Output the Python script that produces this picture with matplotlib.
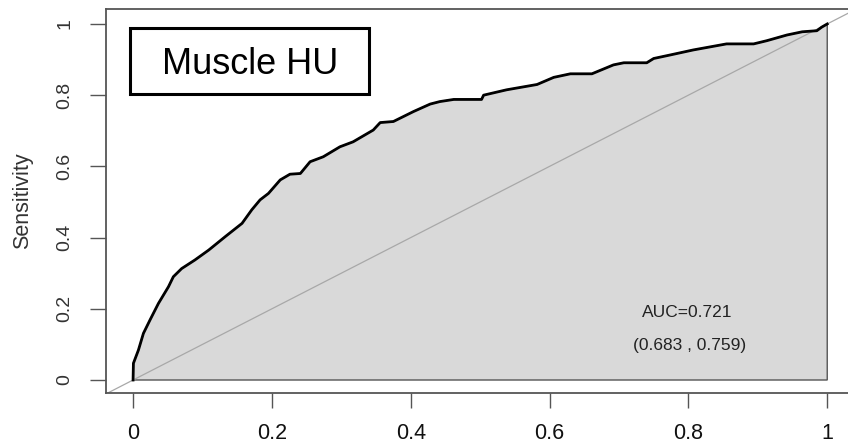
import numpy as np
import matplotlib
matplotlib.use("Agg")
from matplotlib import pyplot as plt
from matplotlib.patches import Rectangle

# ROC curve (1 - specificity, sensitivity)
fpr = [0.0, 0.0005, 0.0077, 0.0149, 0.0245, 0.0365, 0.051, 0.058, 0.070, 0.089,
       0.109, 0.133, 0.157, 0.171, 0.183, 0.195, 0.212, 0.226, 0.241, 0.255,
       0.274, 0.298, 0.317, 0.346, 0.356, 0.375, 0.404, 0.428, 0.442, 0.462,
       0.502, 0.505, 0.538, 0.582, 0.606, 0.630, 0.661, 0.692, 0.707, 0.740,
       0.750, 0.774, 0.807, 0.855, 0.894, 0.913, 0.942, 0.964, 0.985, 0.992, 1.0]
tpr = [0.0, 0.047, 0.084, 0.131, 0.169, 0.215, 0.262, 0.290, 0.313, 0.337,
       0.365, 0.403, 0.440, 0.478, 0.506, 0.524, 0.562, 0.578, 0.580, 0.613,
       0.627, 0.655, 0.669, 0.702, 0.723, 0.726, 0.754, 0.775, 0.782, 0.788,
       0.788, 0.800, 0.815, 0.830, 0.850, 0.860, 0.860, 0.885, 0.891, 0.891,
       0.903, 0.913, 0.927, 0.944, 0.944, 0.953, 0.969, 0.978, 0.981, 0.991, 1.0]

x_ticks = [0, 0.2, 0.4, 0.6, 0.8, 1]
x_labels = ["0", "0.2", "0.4", "0.6", "0.8", "1"]
y_ticks = [0, 0.2, 0.4, 0.6, 0.8, 1]
y_labels = ["0", "0.2", "0.4", "0.6", "0.8", "1"]

panel_title = "Muscle HU"
auc_text = "AUC=0.721"
ci_text = "(0.683 , 0.759)"

plt.rcParams["font.family"] = ["Liberation Sans", "DejaVu Sans"]

fig = plt.figure(figsize=(8.48, 4.43), dpi=100)
# right edge of the R plot box falls just outside the picture
ax = fig.add_axes([106 / 848, 50 / 443, 749 / 848, 384 / 443])
ax.set_xlim(-0.039, 1.04)
ax.set_ylim(-0.0365, 1.042)

# shaded area under the curve, closed along y=0 and x=1
poly_x = np.concatenate([fpr, [1.0, 0.0]])
poly_y = np.concatenate([tpr, [0.0, 0.0]])
ax.fill(poly_x, poly_y, facecolor="#d9d9d9", edgecolor="#555555", lw=1.0, zorder=1)

# chance line
ax.axline((0, 0), (1, 1), color="#a8a8a8", lw=0.9, zorder=2)

ax.plot(fpr, tpr, color="black", lw=2.0, zorder=3)

# label box
ax.add_patch(Rectangle((-0.004, 0.803), 0.344, 0.186, facecolor="white",
                       edgecolor="black", lw=2.2, zorder=4))
ax.text(0.168, 0.860, panel_title, ha="center", va="baseline",
        fontsize=26, color="black", zorder=5)

ax.text(0.798, 0.177, auc_text, ha="center", va="baseline", fontsize=12.5, color="#222222")
ax.text(0.801, 0.084, ci_text, ha="center", va="baseline", fontsize=12.5, color="#222222")

for s in ax.spines.values():
    s.set_color("#555555")
    s.set_linewidth(1.3)

ax.set_xticks(x_ticks)
ax.set_xticklabels(x_labels)
ax.set_yticks(y_ticks)
ax.set_yticklabels(y_labels, rotation=90, va="center")
ax.tick_params(axis="x", length=10.5, width=1.0, color="#555555", pad=11,
               labelsize=15.5, labelcolor="#111111")
ax.tick_params(axis="y", length=11.5, width=1.0, color="#555555", pad=12,
               labelsize=14, labelcolor="#333333")

ax.text(-0.111, 0.5, "Sensitivity", transform=ax.transAxes, rotation=90,
        ha="center", va="center", fontsize=15.5, color="#333333")

fig.savefig("out.png", dpi=100)
